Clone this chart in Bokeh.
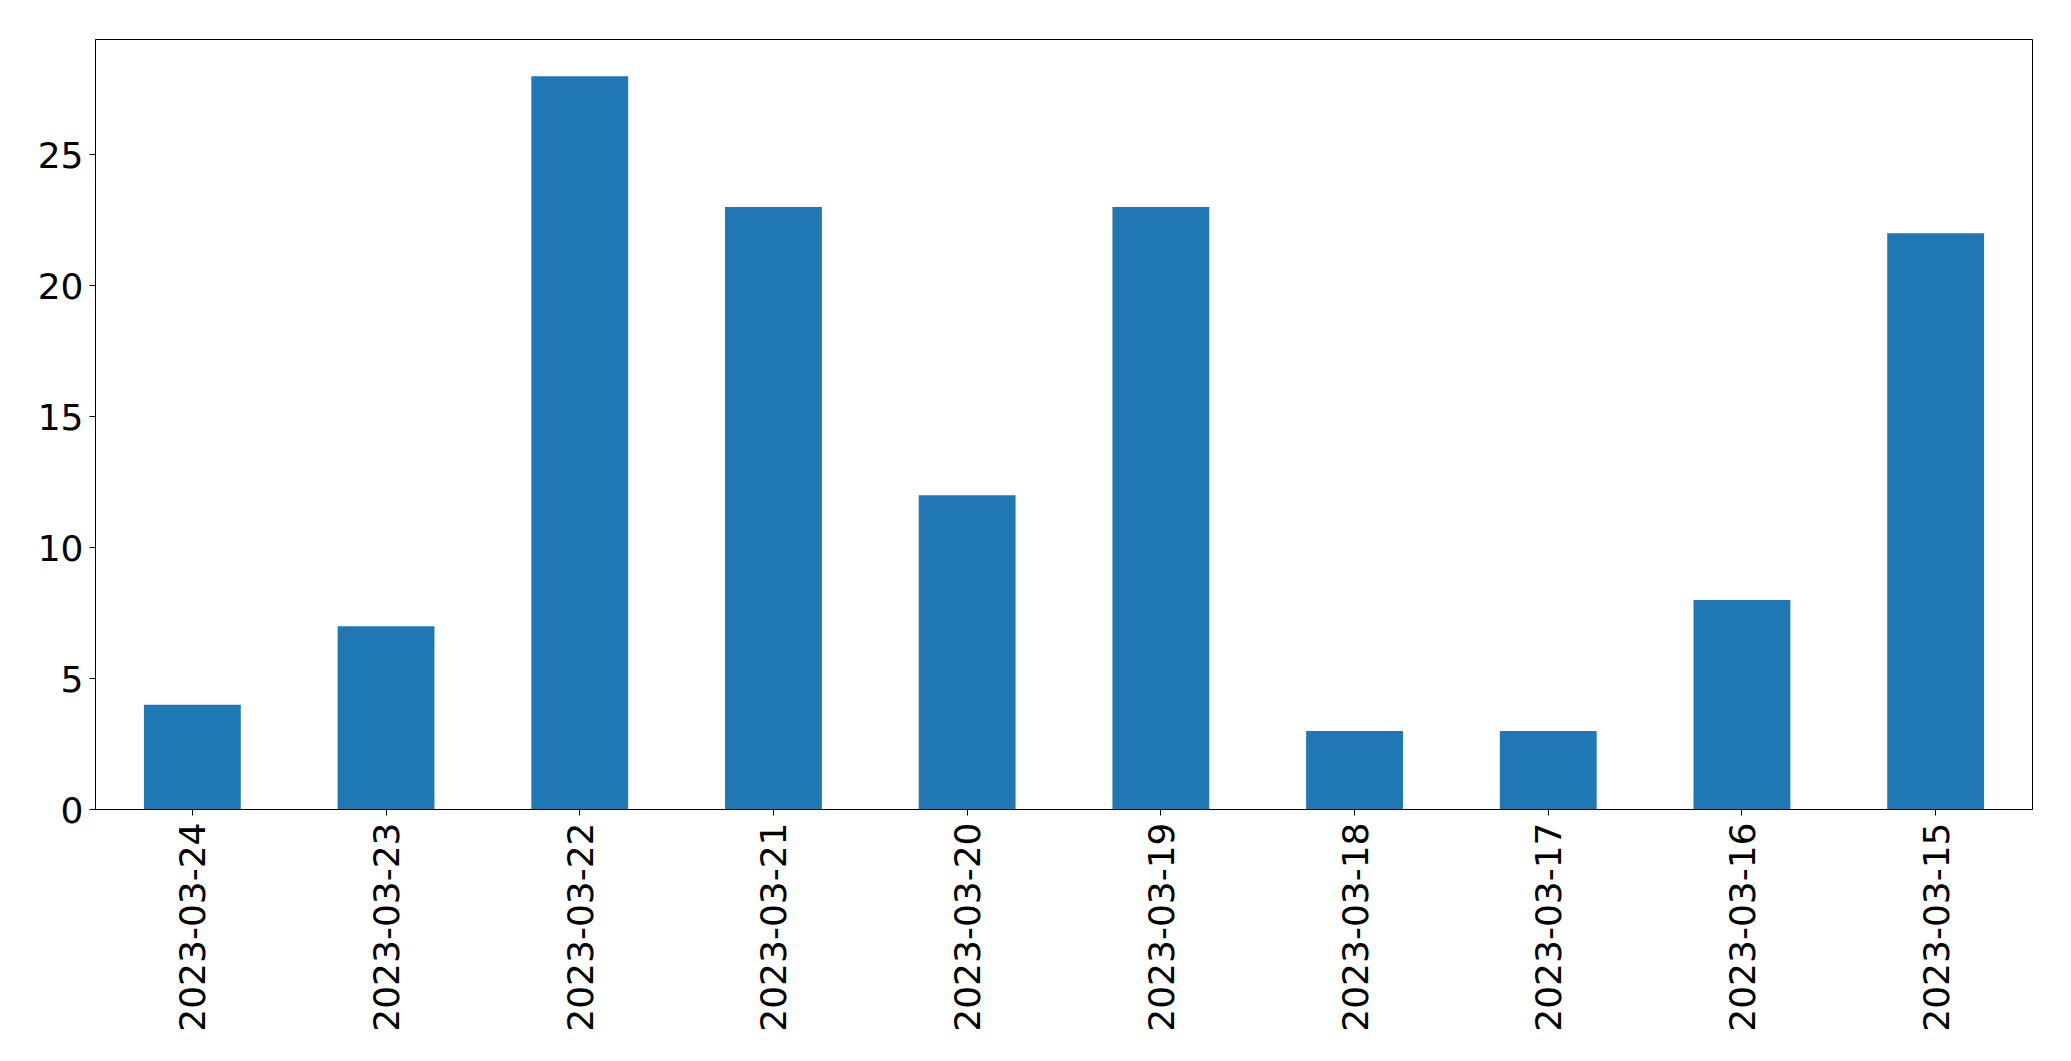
from bokeh.plotting import figure
from bokeh.models import ColumnDataSource, FixedTicker, Range1d
from bokeh.embed import file_html
from bokeh.resources import INLINE
import math

dates = ["2023-03-24", "2023-03-23", "2023-03-22", "2023-03-21", "2023-03-20",
         "2023-03-19", "2023-03-18", "2023-03-17", "2023-03-16", "2023-03-15"]
counts = [4, 7, 28, 23, 12, 23, 3, 3, 8, 22]
y_ticks = [0, 5, 10, 15, 20, 25]

source = ColumnDataSource(dict(date=dates, count=counts))

p = figure(x_range=dates, y_range=Range1d(0, max(counts) * 1.05),
           frame_width=1937, frame_height=770,
           min_border_left=95, min_border_top=39, min_border_right=23, min_border_bottom=236,
           output_backend="svg", toolbar_location=None)

p.vbar(x="date", top="count", width=0.5, source=source,
       fill_color="#1f77b4", line_color=None)

p.xgrid.visible = False
p.ygrid.visible = False
p.outline_line_color = "black"
p.outline_line_width = 1
p.outline_line_alpha = 1
p.x_range.range_padding = 0

for ax in (p.xaxis[0], p.yaxis[0]):
    ax.axis_line_color = "black"
    ax.major_tick_line_color = "black"
    ax.major_tick_out = 6
    ax.major_tick_in = 0
    ax.minor_tick_line_color = None
    ax.major_label_text_font = "DejaVu Sans"
    ax.major_label_text_font_size = "36px"
    ax.major_label_text_color = "black"

p.yaxis[0].ticker = FixedTicker(ticks=y_ticks)
p.yaxis[0].major_label_standoff = 6
p.xaxis[0].major_label_orientation = math.pi / 2
p.xaxis[0].major_label_standoff = 7

open("out.html", "w").write(file_html(p, INLINE))
